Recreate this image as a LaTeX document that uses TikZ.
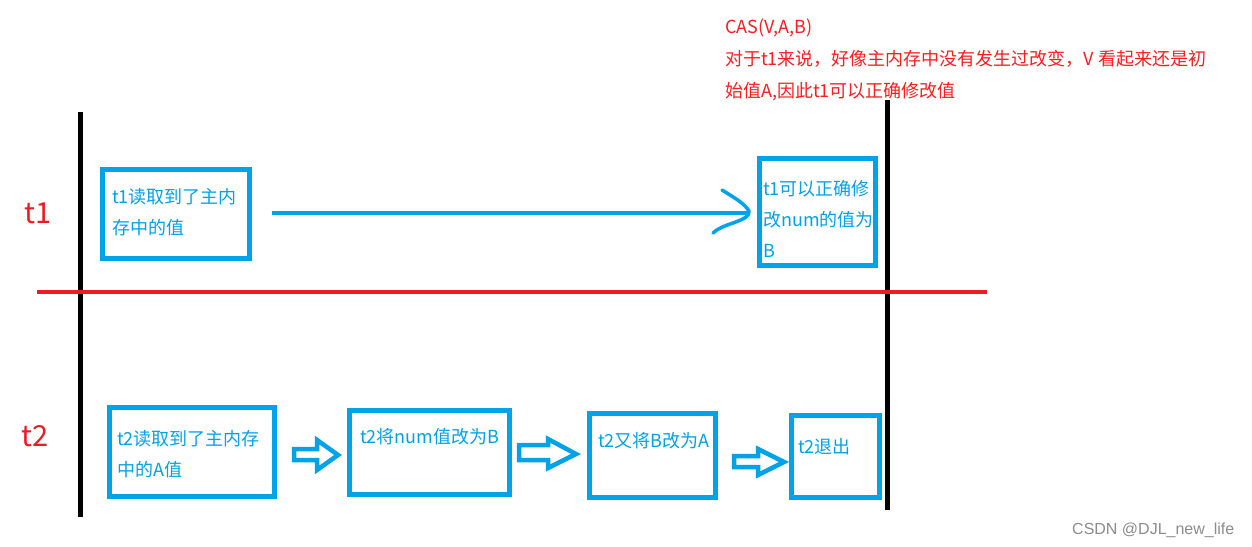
\documentclass[tikz,border=0pt]{standalone}
\usepackage{fontspec}
\setmainfont{Noto Sans CJK SC}
\newfontfamily\wmfont{Liberation Sans}
\definecolor{pblue}{RGB}{0,162,232}
\definecolor{pred}{RGB}{237,28,36}
\definecolor{tred}{RGB}{250,30,30}
\begin{document}
\begin{tikzpicture}[x=1pt,y=-1pt,
  box/.style={draw=pblue,line width=5.5pt,inner sep=0pt,rectangle},
  txt/.style={anchor=base west,inner sep=0pt,text=pblue,font=\fontsize{18}{18}\selectfont},
  rtxt/.style={anchor=base west,inner sep=0pt,text=tred,font=\fontsize{18}{18}\selectfont},
  lbl/.style={anchor=base west,inner sep=0pt,text=pred,font=\fontsize{29}{29}\selectfont},
  blockarrow/.style={draw=pblue,line width=4.5pt,line join=miter},
  timeline/.style={line width=5pt,black}]
\useasboundingbox[fill=white] (0,0) rectangle (1252,546);
% time lines
\coordinate (l1) at (80,112); \coordinate (l2) at (80,517);
\coordinate (r1) at (887,100); \coordinate (r2) at (887,510);
\coordinate (h1) at (37,292); \coordinate (h2) at (987,292);
\draw[timeline] (l1) -- (l2);
\draw[timeline] (r1) -- (r2);
\draw[pred,line width=4pt] (h1) -- (h2);
% labels
\node[lbl] (lt1) at (24,223) {t1};
\node[lbl] (lt2) at (21,446) {t2};
% top red text
\node[rtxt] (c1) at (725,33) {CAS(V,A,B)};
\node[rtxt] (c2) at (725,65) {对于t1来说，好像主内存中没有发生过改变，V 看起来还是初};
\node[rtxt] (c3) at (725,97) {始值A,因此t1可以正确修改值};
% t1 boxes
\node[box,minimum width=147pt,minimum height=89pt] (b1) at (176,214) {};
\node[txt] (b1a) at (112,203) {t1读取到了主内};
\node[txt] (b1b) at (112,234) {存中的值};
\node[box,minimum width=116pt,minimum height=107pt] (b2) at (817.5,212) {};
\node[txt] (b2a) at (763,195) {t1可以正确修};
\node[txt] (b2b) at (763,226) {改num的值为};
\node[txt] (b2c) at (763,257) {B};
\draw[pblue,line width=4pt,shorten <=20pt,shorten >=9pt] (b1.east |- 0,213) -- (b2.west |- 0,213);
\draw[pblue,line width=3.5pt,line cap=round,line join=round]
  (722,190) .. controls (735,198) and (745,204) .. (749,211)
  .. controls (750,216) and (744,219) .. (733,223)
  .. controls (724,226) and (717,229) .. (713,233);
% t2 boxes
\node[box,minimum width=165pt,minimum height=89pt] (bA) at (192,452) {};
\node[txt] (bAa) at (117,445) {t2读取到了主内存};
\node[txt] (bAb) at (117,476) {中的A值};
\node[box,minimum width=160pt,minimum height=84pt] (bB) at (429.5,452.5) {};
\node[txt] (bBa) at (360,443) {t2将num值改为B};
\node[box,minimum width=126pt,minimum height=84pt] (bC) at (652.5,455.5) {};
\node[txt] (bCa) at (598,447) {t2又将B改为A};
\node[box,minimum width=88pt,minimum height=82pt] (bD) at (835.5,456.5) {};
\node[txt] (bDa) at (798,453) {t2退出};
% block arrows
\draw[blockarrow] (294,449) -- (317,449) -- (317,440) -- (338,455) -- (317,470) -- (317,460) -- (294,460) -- cycle;
\draw[blockarrow] (519,445) -- (548,445) -- (548,439) -- (576,454) -- (548,468) -- (548,460) -- (519,460) -- cycle;
\draw[blockarrow] (734,456) -- (758,456) -- (758,449) -- (784,462) -- (758,475) -- (758,467) -- (734,467) -- cycle;
% watermark
\node[anchor=base west,inner sep=0pt,text=black!45,font=\wmfont\fontsize{16}{16}\selectfont] (wm) at (1072,534) {CSDN @DJL\_new\_life};
\end{tikzpicture}
\end{document}
